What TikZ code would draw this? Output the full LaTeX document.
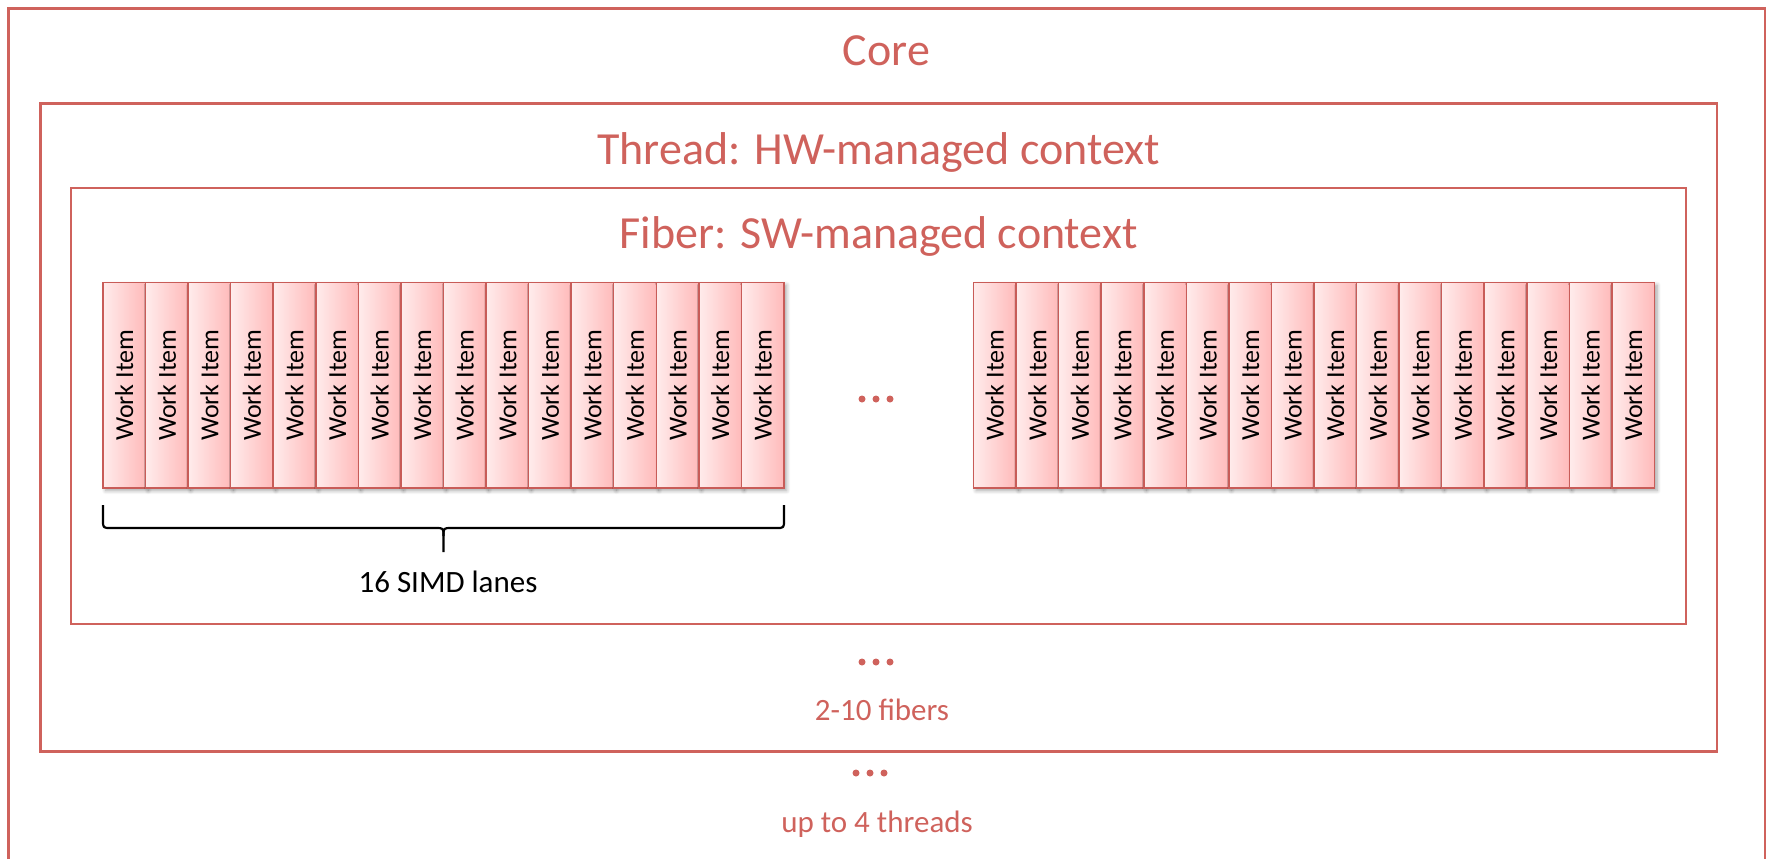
\documentclass[tikz,border=0pt]{standalone}
\usepackage{fontspec}
\setmainfont{Carlito}
\usetikzlibrary{shadows.blur}
\definecolor{boxred}{RGB}{207,98,92}
\definecolor{itemedge}{RGB}{200,92,88}
\definecolor{itemlight}{RGB}{255,236,236}
\definecolor{itemdark}{RGB}{255,186,186}
\begin{document}
\begin{tikzpicture}[x=0.5pt,y=-0.5pt,
  frame/.style={draw=boxred, line width=1.3pt},
  title/.style={text=boxred, font=\fontsize{23}{27}\selectfont, anchor=base, inner sep=0pt},
  note/.style={text=boxred, font=\fontsize{15.5}{18}\selectfont, anchor=base, inner sep=0pt},
  workitem/.style={draw=itemedge, line width=0.75pt, left color=itemlight, right color=itemdark,
    minimum width=21.28pt, minimum height=102.75pt, inner sep=0pt,
    font=\fontsize{13}{15}\selectfont,
    blur shadow={shadow xshift=1.3pt, shadow yshift=-1.3pt, shadow opacity=35, shadow blur steps=6}},
  bracket/.style={draw=black, line width=1.1pt, line join=round}
]
\useasboundingbox (0,0) rectangle (1767,859);

% nested context frames: core (open at the bottom), thread, fiber
\draw[frame] (8.5,859) -- (8.5,8.5) -- (1765,8.5) -- (1765,859);
\draw[frame] (40.5,103.5) rectangle (1717,751.5);
\draw[frame] (71,188) rectangle (1686,624);

% frame titles
\node[title] (core) at (886.5,65) {Core};
\node[title] (thread) at (878.5,164) {Thread: HW-managed context};
\node[title] (fiber) at (878.5,248) {Fiber: SW-managed context};

% two groups of sixteen SIMD lanes
\foreach \i in {1,...,16} {
  \node[workitem] (wl\i) at ({103+42.56*(\i-0.5)},385.25) {\rotatebox{90}{Work Item}};
  \node[workitem] (wr\i) at ({973.5+42.56*(\i-0.5)},385.25) {\rotatebox{90}{Work Item}};
}

% ellipses between lane groups, fibers and threads
\foreach \x in {862,876,890} \fill[boxred] (\x,399) circle[radius=1.75pt];
\foreach \x in {862,876,890} \fill[boxred] (\x,662) circle[radius=1.75pt];
\foreach \x in {856,870,884} \fill[boxred] (\x,773) circle[radius=1.75pt];

% brace under the first lane group
\draw[bracket] (103,505) -- (103,520) .. controls (103,528) .. (111,528) -- (435.5,528)
  .. controls (443.5,528) .. (443.5,536) -- (443.5,552);
\draw[bracket] (443.5,536) .. controls (443.5,528) .. (451.5,528) -- (776,528)
  .. controls (784,528) .. (784,520) -- (784,505);

% labels
\node[anchor=base, inner sep=0pt, font=\fontsize{15.5}{18}\selectfont] (lanes) at (448,592.5) {16 SIMD lanes};
\node[note] (fibers) at (882,720) {2-10 fibers};
\node[note] (threads) at (877,832) {up to 4 threads};
\end{tikzpicture}
\end{document}
